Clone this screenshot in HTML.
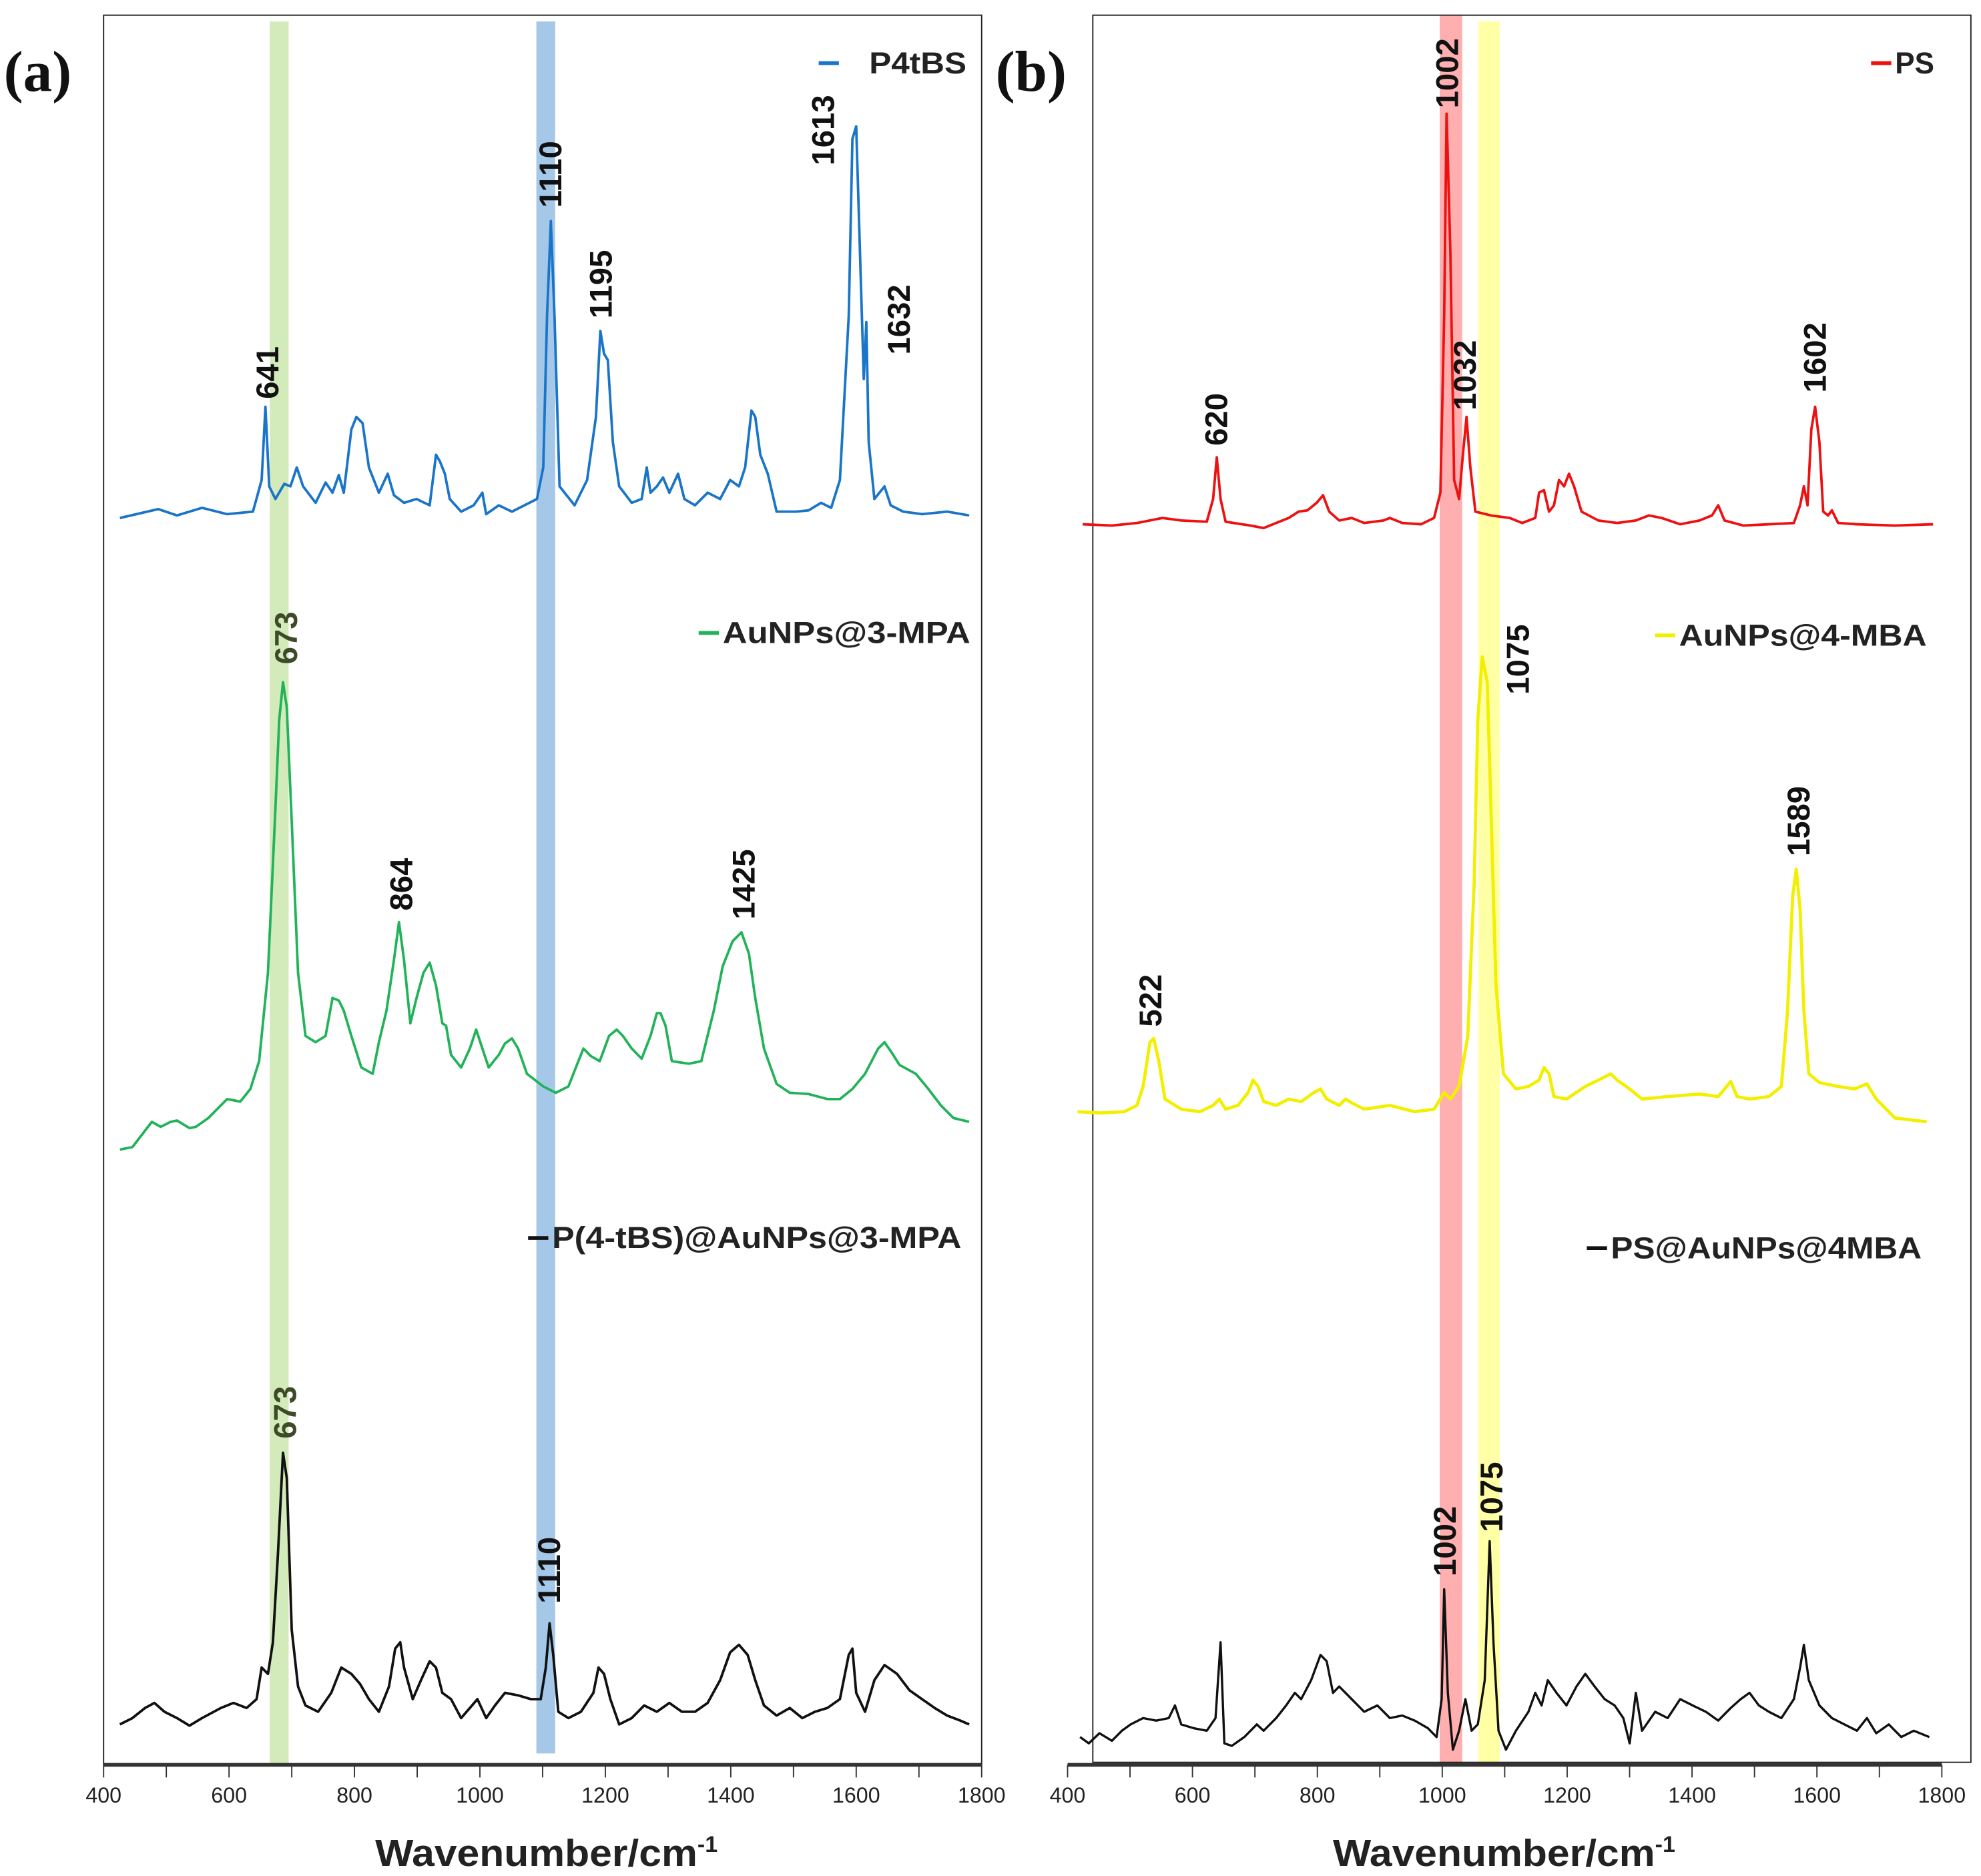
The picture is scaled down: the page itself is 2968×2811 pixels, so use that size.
<!DOCTYPE html>
<html><head><meta charset="utf-8"><style>
html,body{margin:0;padding:0;background:#fff}
svg{display:block}
text{font-family:"Liberation Sans",sans-serif}
</style></head><body>
<svg id="fig" width="2968" height="2811" viewBox="0 0 1568 1485" preserveAspectRatio="none" xmlns="http://www.w3.org/2000/svg">
<rect width="1568" height="1485" fill="#fff"/>
<g id="pa"></g>
<g id="pb"></g>
</svg>
<script>
const ticksA=[400,600,800,1000,1200,1400,1600,1800];
const minorTicks=[400,500,600,700,800,900,1000,1100,1200,1300,1400,1500,1600,1700,1800];
const p4tbs=[[426,0],[487,7],[517,2],[557,8],[597,3],[638,5],[652,30],[658,88],[664,25],[674,15],[688,27],[698,25],[708,40],[718,25],[738,12],[754,28],[765,20],[775,34],[783,20],[795,70],[803,80],[813,75],[823,40],[839,20],[853,35],[863,18],[879,12],[899,15],[920,10],[930,50],[936,45],[944,35],[952,15],[970,5],[990,10],[1004,20],[1010,3],[1030,10],[1051,5],[1071,10],[1091,15],[1101,40],[1107,160],[1113,235],[1119,160],[1127,25],[1151,10],[1171,30],[1185,80],[1192,148],[1198,130],[1204,125],[1212,60],[1222,25],[1242,12],[1258,15],[1266,40],[1272,20],[1282,25],[1292,32],[1302,20],[1316,35],[1326,15],[1343,10],[1363,20],[1383,15],[1399,30],[1413,25],[1423,40],[1433,85],[1439,80],[1447,50],[1459,35],[1473,5],[1504,5],[1524,6],[1544,12],[1560,8],[1574,30],[1588,160],[1594,300],[1600,310],[1606,210],[1612,110],[1616,155],[1620,60],[1629,15],[1645,25],[1655,10],[1675,5],[1705,3],[1745,5],[1780,2]];
const mpa=[[426,0],[446,2],[466,15],[477,22],[491,18],[507,22],[517,23],[537,17],[547,18],[567,25],[587,35],[597,40],[618,38],[634,48],[648,70],[662,140],[674,270],[680,340],[686,370],[692,350],[700,260],[710,140],[722,90],[738,85],[754,90],[765,120],[775,118],[783,110],[795,90],[811,65],[829,60],[839,85],[851,110],[863,150],[871,180],[879,150],[889,100],[899,120],[910,140],[920,148],[930,130],[940,100],[946,98],[954,75],[970,65],[984,80],[994,95],[1004,80],[1014,65],[1030,75],[1040,84],[1051,88],[1061,80],[1075,60],[1101,50],[1121,45],[1141,50],[1157,70],[1165,80],[1177,74],[1191,70],[1206,90],[1218,95],[1228,90],[1242,80],[1258,72],[1272,90],[1282,108],[1288,108],[1296,98],[1306,70],[1333,68],[1353,70],[1373,110],[1387,145],[1403,165],[1417,172],[1429,155],[1439,120],[1453,80],[1473,52],[1494,45],[1524,44],[1554,40],[1574,40],[1594,48],[1614,60],[1635,80],[1645,85],[1655,78],[1669,67],[1695,60],[1715,48],[1735,35],[1755,25],[1780,22]];
const composite=[[426,0],[446,5],[466,13],[481,17],[497,10],[517,5],[537,-1],[557,5],[587,13],[607,17],[628,13],[644,20],[652,45],[662,40],[670,65],[678,135],[686,215],[692,195],[700,75],[710,30],[722,15],[742,10],[763,25],[779,45],[795,40],[809,32],[823,20],[839,10],[855,30],[865,60],[873,65],[879,45],[893,20],[906,35],[920,50],[930,45],[940,25],[954,20],[970,5],[984,13],[996,20],[1010,5],[1024,15],[1040,25],[1061,23],[1081,20],[1097,20],[1105,45],[1111,80],[1117,55],[1125,10],[1141,5],[1161,10],[1181,25],[1189,45],[1198,40],[1208,20],[1222,0],[1242,5],[1262,15],[1282,10],[1302,17],[1322,10],[1343,10],[1363,17],[1383,35],[1399,57],[1413,63],[1427,55],[1439,35],[1453,15],[1473,7],[1494,13],[1514,5],[1534,10],[1554,13],[1574,20],[1588,55],[1594,60],[1600,25],[1614,10],[1629,35],[1645,47],[1665,40],[1685,27],[1705,20],[1725,13],[1745,7],[1766,3],[1780,0]];
const ps=[[424,0],[471,-1],[511,1],[552,5],[582,3],[623,2],[633,20],[639,53],[645,20],[653,2],[693,-1],[714,-3],[734,1],[754,5],[770,10],[784,11],[799,17],[809,23],[819,10],[835,3],[855,5],[875,1],[906,3],[916,5],[936,1],[966,0],[987,5],[997,25],[1003,165],[1007,325],[1013,215],[1019,35],[1027,20],[1033,55],[1039,85],[1045,45],[1053,10],[1078,7],[1108,5],[1128,1],[1149,5],[1155,25],[1163,27],[1171,10],[1179,15],[1187,35],[1195,30],[1203,40],[1211,30],[1223,10],[1250,3],[1280,1],[1310,3],[1331,7],[1351,5],[1381,0],[1412,3],[1432,7],[1442,15],[1452,3],[1482,-1],[1523,0],[1563,1],[1573,15],[1579,30],[1585,15],[1591,75],[1597,93],[1604,65],[1610,10],[1618,7],[1624,11],[1634,1],[1664,0],[1725,-1],[1786,0]];
const mba=[[416,0],[451,-1],[491,0],[511,5],[521,20],[532,55],[538,58],[546,40],[556,10],[582,2],[612,0],[633,5],[643,10],[653,2],[673,5],[689,15],[697,25],[705,20],[714,8],[734,5],[754,10],[774,8],[794,15],[805,18],[815,10],[835,5],[845,10],[855,7],[875,2],[916,5],[956,0],[987,2],[1003,15],[1013,10],[1027,20],[1041,60],[1051,180],[1057,310],[1064,360],[1072,340],[1078,240],[1086,100],[1098,30],[1118,18],[1138,20],[1155,25],[1163,35],[1171,30],[1179,12],[1199,10],[1229,20],[1250,25],[1270,30],[1280,25],[1300,18],[1320,10],[1361,12],[1412,14],[1442,12],[1452,18],[1462,24],[1472,12],[1492,10],[1523,12],[1543,20],[1553,80],[1561,170],[1567,192],[1573,160],[1579,80],[1587,30],[1604,23],[1634,20],[1660,18],[1680,22],[1695,10],[1725,-5],[1776,-8]];
const psComposite=[[420,0],[434,-5],[451,3],[471,-3],[487,5],[501,10],[521,15],[542,13],[562,15],[572,25],[582,10],[602,7],[623,5],[637,15],[645,75],[651,-5],[663,-7],[683,0],[703,10],[714,5],[734,15],[750,25],[764,35],[774,30],[790,45],[805,65],[815,60],[825,35],[835,40],[855,30],[875,20],[896,25],[916,15],[936,17],[956,13],[977,7],[991,0],[999,30],[1003,117],[1009,35],[1017,-10],[1027,5],[1037,30],[1047,5],[1057,10],[1068,45],[1076,155],[1082,75],[1090,5],[1102,-10],[1118,5],[1138,20],[1149,35],[1159,25],[1169,45],[1183,35],[1199,25],[1215,40],[1229,50],[1244,40],[1260,30],[1276,25],[1290,15],[1300,-5],[1310,35],[1320,5],[1341,20],[1361,15],[1381,30],[1401,25],[1422,20],[1442,13],[1462,23],[1478,30],[1492,35],[1507,25],[1523,20],[1543,15],[1563,30],[1573,55],[1579,73],[1587,45],[1604,25],[1624,15],[1644,10],[1664,5],[1680,15],[1695,3],[1715,10],[1735,0],[1755,5],[1780,0]];

const NS="http://www.w3.org/2000/svg";
function mk(parent,tag,attrs){const e=document.createElementNS(NS,tag);for(const k in attrs)e.setAttribute(k,attrs[k]);parent.appendChild(e);return e;}
const xA=w=>82+(w-400)/1400*695;
const xB=w=>845+(w-400)/1400*692;

function panel(g,xs,frame,axisX0,axisX1,bands,traces,labels,legends,letter,letterX,titleX){
  for(const b of bands){
    const r=mk(g,'rect',{x:xs(b.w0),y:b.y0,width:xs(b.w1)-xs(b.w0),height:b.y1-b.y0,fill:b.c,opacity:b.o});
    
    
  }
  const f=mk(g,'rect',{x:frame[0],y:frame[1],width:frame[2]-frame[0],height:frame[3]-frame[1],fill:'none',stroke:'#222','stroke-width':1});
  
  
  const ax=mk(g,'line',{x1:axisX0,x2:axisX1,y1:1397,y2:1397,stroke:'#333','stroke-width':3});
  
  
  for(const t of minorTicks){
    const tk=mk(g,'line',{x1:xs(t),x2:xs(t),y1:1397,y2:1407,stroke:'#333','stroke-width':1});
    
    
  }
  for(const t of ticksA){
    const tl=mk(g,'text',{x:xs(t),y:1427,'font-size':17,'text-anchor':'middle',fill:'#222'});
    tl.textContent=t;
    
    
  }
  const tt=mk(g,'text',{x:titleX-140,y:1477,'font-size':30,'font-weight':'bold',fill:'#222'});
  tt.innerHTML='<tspan textLength="255" lengthAdjust="spacingAndGlyphs">Wavenumber/cm</tspan><tspan dy="-11" font-size="18">-1</tspan>';
  
  
  for(const tr of traces){
    const d=tr.data.map((p,i)=>(i?'L':'M')+xs(p[0]).toFixed(1)+','+(tr.base-p[1]*tr.k).toFixed(1)).join('');
    const pth=mk(g,'path',{d:d,fill:'none',stroke:tr.c,'stroke-width':tr.sw,'stroke-linejoin':'round'});
    
    
  }
  for(const l of labels){
    const t=mk(g,'text',{transform:`translate(${l.x},${l.y}) rotate(-90)`,'font-size':25,'font-weight':'bold','text-anchor':'middle','dominant-baseline':'central',fill:l.c||'#111'});
    t.textContent=l.t;
    
    
  }
  for(const l of legends){
    const ln=mk(g,'line',{x1:l.x,x2:l.x+16,y1:l.y-8,y2:l.y-8,stroke:l.c,'stroke-width':3});
    
    
    const t=mk(g,'text',{x:l.x+(l.gap||19),y:l.y,'font-size':24,'font-weight':'bold',fill:'#222',textLength:l.w,lengthAdjust:'spacingAndGlyphs'});
    t.textContent=l.t;
    
    
  }
  const pl=mk(g,'text',{x:letterX,y:72,'font-size':46,'font-weight':'bold',fill:'#111',style:'font-family:"Liberation Serif",serif'});
  pl.textContent=letter;
  
  
}

panel(document.getElementById('pa'),xA,[82,12,777,1397],82,777,
 [{w0:665,w1:695,y0:17,y1:1397,c:'#b5dc8e',o:0.6,name:'band-673'},{w0:1090,w1:1120,y0:17,y1:1388,c:'#5b9bd5',o:0.55,name:'band-1110'}],
 [{data:p4tbs,base:410,k:1,c:'#1a75c9',sw:2,name:'p4tbs-spectrum'},
  {data:mpa,base:910,k:1,c:'#22b35a',sw:2,name:'aunps-3mpa-spectrum'},
  {data:composite,base:1365,k:1,c:'#111',sw:2,name:'p4tbs-aunps-3mpa-spectrum'}],
 [{t:'641',x:212,y:295},{t:'1110',x:436,y:138},{t:'1195',x:476,y:225},{t:'1613',x:652,y:103},{t:'1632',x:712,y:253},
  {t:'673',x:227,y:505,c:'#3d4a28'},{t:'864',x:318,y:700},{t:'1425',x:589,y:700},{t:'673',x:226,y:1118,c:'#3d4a28'},{t:'1110',x:435,y:1243}],
 [{x:648,y:58,t:'P4tBS',c:'#1a75c9',gap:40,w:77},{x:553,y:509,t:'AuNPs@3-MPA',c:'#22b35a',w:196},{x:418,y:988,t:'P(4-tBS)@AuNPs@3-MPA',c:'#111',w:324}],
 '(a)',3,437);

panel(document.getElementById('pb'),xB,[865,12,1560,1395],845,1537,
 [{w0:996,w1:1032,y0:12,y1:1397,c:'#ff7a7a',o:0.6,name:'band-1002'},{w0:1058,w1:1092,y0:17,y1:1397,c:'#ffff80',o:0.7,name:'band-1075'}],
 [{data:ps,base:415,k:1,c:'#ee1111',sw:2,name:'ps-spectrum'},
  {data:mba,base:880,k:1,c:'#f2f000',sw:2.5,name:'aunps-4mba-spectrum'},
  {data:psComposite,base:1375,k:1,c:'#111',sw:1.8,name:'ps-aunps-4mba-spectrum'}],
 [{t:'1002',x:1146,y:58},{t:'620',x:963,y:332},{t:'1032',x:1160,y:297},{t:'1602',x:1437,y:283},{t:'1075',x:1202,y:522},
  {t:'522',x:911,y:792},{t:'1589',x:1424,y:650},{t:'1002',x:1144,y:1220},{t:'1075',x:1181,y:1185}],
 [{x:1481,y:58,t:'PS',c:'#ee1111',w:31},{x:1310,y:511,t:'AuNPs@4-MBA',c:'#f2f000',w:196},{x:1256,y:996,t:'PS@AuNPs@4MBA',c:'#111',w:246}],
 '(b)',788,1195);
</script>
</body></html>
